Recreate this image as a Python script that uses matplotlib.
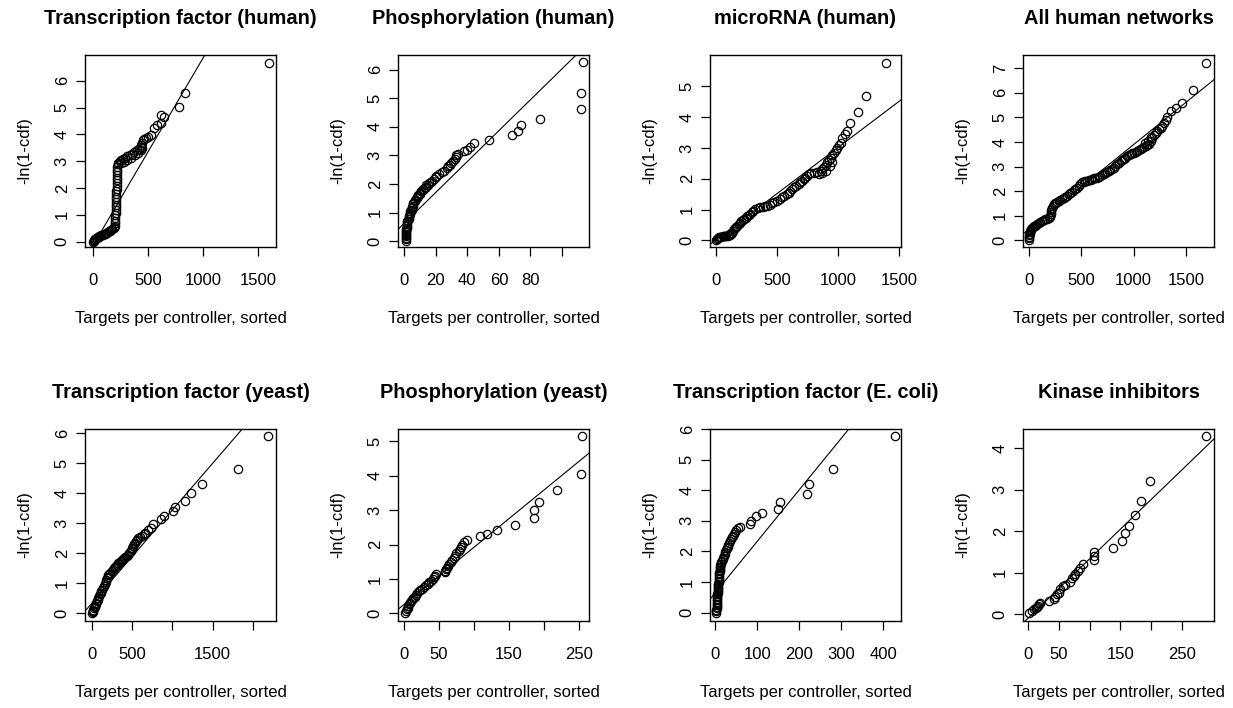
import matplotlib
matplotlib.use("Agg")
import matplotlib.pyplot as plt

plt.rcParams['font.family'] = ['Liberation Sans', 'DejaVu Sans']

# ---------------- data ----------------
titles = ["Transcription factor (human)", "Phosphorylation (human)", "microRNA (human)",
          "All human networks", "Transcription factor (yeast)", "Phosphorylation (yeast)",
          "Transcription factor (E. coli)", "Kinase inhibitors"]
xlabel = "Targets per controller, sorted"
ylabel = "-ln(1-cdf)"

tf_human_x = [0, 3, 6, 10, 15, 20, 26, 32, 40, 48, 56, 65, 74, 84, 94, 104, 114, 124, 134, 144, 154, 164, 174, 184, 192,
              198, 199, 200, 200, 201, 202, 203, 204, 205, 206, 207, 208, 209, 210, 211, 212, 213, 214, 215, 216, 217, 218, 220, 222,
              228, 240, 255, 270, 290, 310, 330, 350, 372, 395, 415, 430, 436, 442, 448, 458, 475, 495, 525, 555, 575, 615, 615, 645, 780, 835, 1596,
              250, 280, 310, 345, 380, 410, 435, 445]
tf_human_y = [0.00, 0.02, 0.04, 0.06, 0.08, 0.10, 0.12, 0.14, 0.16, 0.18, 0.20, 0.22, 0.24, 0.26, 0.28, 0.30, 0.32, 0.34, 0.36, 0.38, 0.41, 0.44, 0.47, 0.50, 0.54,
              0.58, 0.68, 0.78, 0.88, 0.98, 1.08, 1.18, 1.28, 1.38, 1.48, 1.58, 1.68, 1.78, 1.88, 1.98, 2.08, 2.18, 2.28, 2.38, 2.48, 2.58, 2.68, 2.78, 2.88,
              2.95, 3.00, 3.05, 3.09, 3.13, 3.18, 3.23, 3.28, 3.34, 3.40, 3.46, 3.52, 3.60, 3.68, 3.78, 3.84, 3.87, 3.90, 3.98, 4.22, 4.35, 4.42, 4.72, 4.66, 5.03, 5.55, 6.65,
              2.92, 2.97, 3.03, 3.12, 3.22, 3.32, 3.42, 3.50]

ph_human_x = [1, 1, 1, 1, 1, 1, 1, 1, 1, 2, 2, 2, 2, 2, 3, 3, 3, 4, 4, 4, 5, 5, 5, 6, 6, 6, 7, 7, 8, 8, 9, 9, 10, 10,
              11, 12, 12, 13, 14, 14, 15, 16, 17, 18, 19, 20, 20, 22, 24, 25, 27, 28, 29, 30, 31, 32, 33, 33, 34,
              38, 40, 42, 44, 54, 68, 72, 74, 86, 112, 112, 113]
ph_human_y = [0.02, 0.07, 0.12, 0.17, 0.22, 0.27, 0.32, 0.37, 0.42, 0.48, 0.54, 0.60, 0.66, 0.72, 0.78, 0.84, 0.90,
              0.95, 1.00, 1.05, 1.10, 1.15, 1.20, 1.25, 1.30, 1.35, 1.40, 1.45, 1.50, 1.54, 1.58, 1.62, 1.66, 1.70,
              1.74, 1.79, 1.83, 1.87, 1.91, 1.95, 1.98, 2.02, 2.06, 2.12, 2.18, 2.24, 2.29, 2.34, 2.42, 2.47, 2.55,
              2.62, 2.68, 2.72, 2.80, 2.86, 2.93, 3.00, 3.06, 3.15, 3.20, 3.30, 3.42, 3.54, 3.71, 3.86, 4.06, 4.29,
              4.62, 5.17, 6.26]

mirna_x = [2, 8, 15, 25, 35, 45, 55, 65, 75, 85, 95, 105, 115, 125, 133, 140, 148, 156, 165, 175, 185, 195, 207, 219,
           231, 243, 255, 267, 280, 293, 306, 321, 340, 362, 385, 405, 420, 440, 458, 478, 499, 520, 540, 560, 582,
           596, 609, 622, 636, 656, 677, 691, 705, 718, 732, 746, 760, 780, 801, 828, 856, 870, 883, 897, 911, 925,
           938, 952, 966, 980, 993, 1007, 1020, 1034, 1055, 1075, 1097, 1163, 1226, 1391,
           840, 870, 900, 930, 950]
mirna_y = [0.02, 0.05, 0.08, 0.10, 0.11, 0.12, 0.13, 0.13, 0.14, 0.14, 0.15, 0.16, 0.18, 0.20, 0.24, 0.30, 0.36, 0.41,
           0.45, 0.48, 0.52, 0.57, 0.62, 0.67, 0.70, 0.74, 0.79, 0.83, 0.87, 0.91, 0.96, 1.02, 1.05, 1.08, 1.10, 1.12,
           1.13, 1.16, 1.20, 1.25, 1.29, 1.34, 1.40, 1.45, 1.50, 1.55, 1.61, 1.66, 1.72, 1.77, 1.83, 1.88, 1.94, 1.99,
           2.04, 2.09, 2.15, 2.18, 2.20, 2.23, 2.26, 2.31, 2.37, 2.45, 2.53, 2.61, 2.69, 2.77, 2.85, 2.93, 3.01, 3.09,
           3.17, 3.33, 3.45, 3.55, 3.80, 4.16, 4.68, 5.75,
           2.15, 2.20, 2.25, 2.40, 2.55]

allhuman_x = [0, 2, 4, 6, 8, 10, 14, 18, 24, 32, 40, 50, 60, 70, 80, 95, 110, 127, 145, 160, 175, 190, 200, 207, 211,
              214, 217, 222, 228, 238, 250, 262, 270, 285, 300, 318, 335, 350, 365, 380, 397, 413, 428, 445, 461, 475,
              490, 508, 525, 540, 556, 575, 590, 605, 620, 635, 650, 667, 683, 700, 715, 730, 748, 763, 778, 795, 810,
              825, 842, 858, 875, 890, 906, 921, 937, 953, 970, 985, 1001, 1017, 1033, 1049, 1065, 1081, 1097, 1112,
              1128, 1144, 1160, 1176, 1192, 1208, 1224, 1239, 1255, 1271, 1287, 1303, 1319, 1351, 1398, 1462, 1567, 1684,
              1110, 1135, 1160]
allhuman_y = [0.02, 0.08, 0.14, 0.20, 0.26, 0.32, 0.38, 0.43, 0.47, 0.51, 0.54, 0.57, 0.60, 0.64, 0.67, 0.71, 0.75,
              0.80, 0.83, 0.85, 0.87, 0.90, 0.95, 1.01, 1.08, 1.15, 1.22, 1.30, 1.38, 1.47, 1.51, 1.54, 1.57, 1.60,
              1.64, 1.68, 1.73, 1.78, 1.82, 1.87, 1.93, 1.98, 2.03, 2.09, 2.15, 2.22, 2.30, 2.36, 2.39, 2.41, 2.42,
              2.44, 2.46, 2.49, 2.52, 2.53, 2.55, 2.57, 2.61, 2.65, 2.69, 2.74, 2.79, 2.83, 2.87, 2.92, 2.96, 3.02,
              3.09, 3.16, 3.21, 3.27, 3.32, 3.37, 3.42, 3.47, 3.50, 3.54, 3.57, 3.60, 3.64, 3.67, 3.72, 3.77, 3.80,
              3.84, 3.88, 3.94, 4.05, 4.17, 4.27, 4.37, 4.44, 4.51, 4.58, 4.64, 4.78, 4.91, 5.02, 5.25, 5.38, 5.59,
              6.10, 7.20,
              3.95, 4.05, 4.20]

tf_yeast_x = [0, 5, 10, 15, 20, 28, 35, 42, 50, 58, 66, 75, 84, 93, 103, 112, 122, 133, 145, 155, 165, 175, 183, 190,
              198, 210, 227, 240, 255, 268, 282, 296, 310, 325, 340, 355, 370, 385, 400, 413, 428, 442, 455, 468, 480,
              490, 500, 512, 525, 537, 550, 560, 570, 595, 620, 640, 661, 700, 735, 752, 855, 896, 1012, 1033, 1156,
              1231, 1363, 1817, 2189]
tf_yeast_y = [0.01, 0.04, 0.08, 0.12, 0.16, 0.20, 0.25, 0.30, 0.35, 0.40, 0.45, 0.51, 0.57, 0.63, 0.68, 0.73, 0.78,
              0.84, 0.90, 0.96, 1.03, 1.10, 1.16, 1.22, 1.27, 1.31, 1.35, 1.40, 1.45, 1.50, 1.54, 1.58, 1.62, 1.66,
              1.70, 1.74, 1.77, 1.81, 1.85, 1.88, 1.92, 1.96, 2.00, 2.04, 2.09, 2.14, 2.19, 2.25, 2.30, 2.35, 2.41,
              2.46, 2.51, 2.55, 2.59, 2.64, 2.69, 2.78, 2.84, 2.98, 3.14, 3.23, 3.40, 3.56, 3.76, 4.01, 4.32, 4.81, 5.90]

ph_yeast_x = [2, 3, 4, 5, 6, 7, 8, 10, 11, 13, 15, 17, 19, 21, 23, 26, 29, 31, 34, 36, 38, 41, 43, 44, 45,
              58, 59, 60, 61, 63, 65, 67, 69, 71, 73, 75, 78, 80, 81, 83, 86, 90, 108, 119, 133, 158, 186, 186,
              193, 219, 253, 255]
ph_yeast_y = [0.02, 0.07, 0.12, 0.17, 0.22, 0.27, 0.31, 0.36, 0.40, 0.44, 0.49, 0.54, 0.59, 0.64, 0.68, 0.72, 0.77,
              0.82, 0.86, 0.91, 0.95, 1.00, 1.05, 1.10, 1.15, 1.19, 1.24, 1.28, 1.33, 1.38, 1.44, 1.50, 1.56, 1.62,
              1.68, 1.75, 1.82, 1.88, 1.94, 2.00, 2.07, 2.14, 2.24, 2.31, 2.43, 2.58, 2.77, 3.01, 3.23, 3.58, 4.06, 5.15]

tf_ecoli_x = [1, 2, 2, 3, 3, 3, 4, 4, 4, 5, 5, 5, 5, 6, 6, 6, 7, 7, 7, 7, 8, 8, 8, 8, 9, 9, 9, 10, 10, 10,
              11, 12, 13, 14, 15, 17, 19, 21, 22, 24, 26, 27, 29, 31, 33, 35, 37, 39, 41, 44, 47, 50, 55, 58,
              82, 86, 96, 110, 150, 155, 218, 224, 281, 428]
tf_ecoli_y = [0.00, 0.05, 0.10, 0.15, 0.20, 0.25, 0.30, 0.35, 0.40, 0.45, 0.50, 0.55, 0.60, 0.65, 0.70, 0.75, 0.80,
              0.85, 0.90, 0.95, 1.00, 1.05, 1.10, 1.15, 1.20, 1.25, 1.30, 1.35, 1.40, 1.45, 1.50, 1.55, 1.60, 1.65,
              1.70, 1.75, 1.80, 1.86, 1.92, 1.98, 2.04, 2.10, 2.16, 2.22, 2.28, 2.34, 2.40, 2.46, 2.52, 2.58, 2.64,
              2.70, 2.76, 2.80, 2.89, 3.00, 3.16, 3.27, 3.40, 3.62, 3.87, 4.20, 4.71, 5.78]

kinase_x = [1.6, 7, 10.8, 13, 15.1, 16, 17.8, 20, 34, 42, 44.8, 47.5, 50, 52.9, 57.2, 60, 68, 71.8, 75, 77.2, 81,
            85.3, 89.6, 108, 108, 108, 138.2, 152.8, 156.6, 163.6, 172.8, 182.5, 197.6, 287.8]
kinase_y = [0.04, 0.08, 0.12, 0.15, 0.18, 0.21, 0.24, 0.27, 0.32, 0.36, 0.42, 0.48, 0.52, 0.60, 0.68, 0.70, 0.78,
            0.88, 0.92, 0.96, 1.04, 1.12, 1.22, 1.30, 1.40, 1.50, 1.60, 1.76, 1.96, 2.12, 2.40, 2.72, 3.20, 4.28]

# fitted straight lines (intercept, slope)
fit_intercepts = [-0.13, 0.62, 0.02, 0.45, 0.35, 0.26, 0.655, -0.10]
fit_slopes = [0.0070, 0.0541, 0.0030, 0.00345, 0.0031, 0.01663, 0.0168, 0.01434]

x_ticks = [[0, 500, 1000, 1500], [0, 20, 40, 60, 80, 100], [0, 500, 1000, 1500], [0, 500, 1000, 1500],
           [0, 500, 1000, 1500, 2000], [0, 50, 100, 150, 200, 250], [0, 100, 200, 300, 400],
           [0, 50, 100, 150, 200, 250]]
x_tick_labels = [["0", "500", "1000", "1500"], ["0", "20", "40", "60", "80", ""],
                 ["0", "500", "1000", "1500"], ["0", "500", "1000", "1500"],
                 ["0", "500", "", "1500", ""], ["0", "50", "", "150", "", "250"],
                 ["0", "100", "200", "300", "400"], ["0", "50", "", "150", "", "250"]]
y_tick_max = [6, 6, 5, 7, 6, 5, 6, 4]

series_x = [tf_human_x, ph_human_x, mirna_x, allhuman_x, tf_yeast_x, ph_yeast_x, tf_ecoli_x, kinase_x]
series_y = [tf_human_y, ph_human_y, mirna_y, allhuman_y, tf_yeast_y, ph_yeast_y, tf_ecoli_y, kinase_y]

# ---------------- layout ----------------
xlims = [(-75, 1659), (-3.8, 117), (-49, 1514), (-54, 1764), (-91, 2292), (-8.6, 264.4), (-12.8, 442.5), (-7.6, 301.3)]
ylims = [(-0.20, 6.96), (-0.2, 6.51), (-0.215, 6.02), (-0.27, 7.54), (-0.26, 6.15), (-0.22, 5.36), (-0.27, 6.0), (-0.16, 4.46)]

W, H = 1233, 708
col_left = [85, 398, 710, 1023]
row_top = [55, 429]
aw, ah = 191, 192

fig = plt.figure(figsize=(W / 100, H / 100), dpi=100)

for i in range(8):
    r, c = divmod(i, 4)
    assert len(series_x[i]) == len(series_y[i]), i
    ax = fig.add_axes([col_left[c] / W, (H - row_top[r] - ah) / H, aw / W, ah / H])
    ax.plot(series_x[i], series_y[i], 'o', mfc='none', mec='black', ms=6.0, mew=0.9)
    ax.axline((0, fit_intercepts[i]), slope=fit_slopes[i], color='black', lw=0.8)
    ax.set_xlim(*xlims[i])
    ax.set_ylim(*ylims[i])
    ax.set_xticks(x_ticks[i])
    ax.set_xticklabels(x_tick_labels[i])
    yt = list(range(0, y_tick_max[i] + 1))
    ax.set_yticks(yt)
    ax.set_yticklabels([str(v) for v in yt])
    for lab in ax.get_yticklabels():
        lab.set_rotation(90)
        lab.set_va('center')
    for s in ax.spines.values():
        s.set_linewidth(1.0)
        s.set_color('black')
    ax.tick_params(axis='both', length=6.5, width=0.9, labelsize=12, direction='out', colors='black')
    ax.tick_params(axis='x', pad=12)
    ax.tick_params(axis='y', pad=4.5)
    ax.text(0.5, 1 + 37 / ah, titles[i], transform=ax.transAxes, ha='center', va='center',
            fontsize=14.4, fontweight='bold')
    ax.text(0.5, -72 / ah, xlabel, transform=ax.transAxes, ha='center', va='center', fontsize=12)
    ax.text(-60 / aw, 0.5, ylabel, transform=ax.transAxes, ha='center', va='center', fontsize=12, rotation=90)

fig.savefig("out.png", dpi=100, facecolor='white')
